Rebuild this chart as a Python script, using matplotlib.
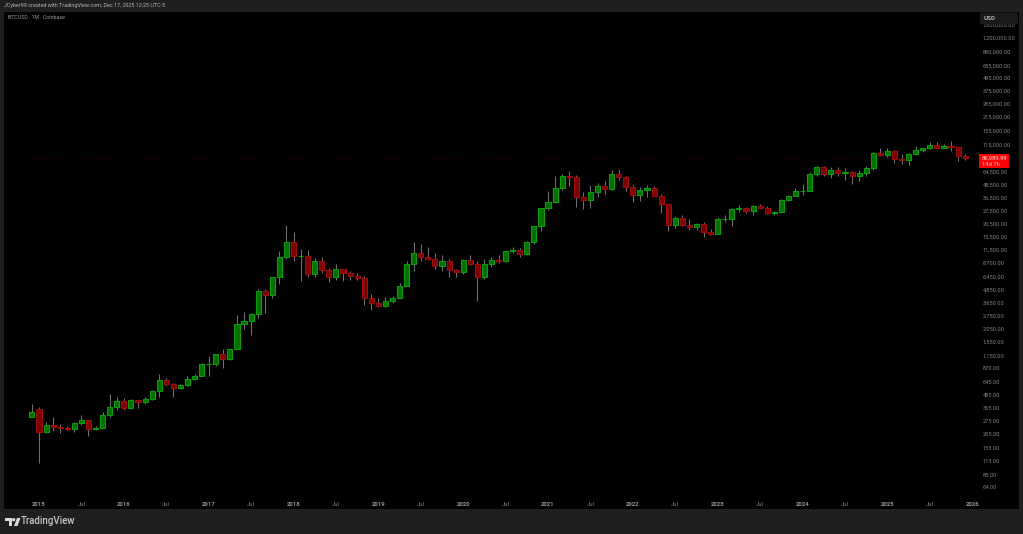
import matplotlib
matplotlib.use('Agg')
import matplotlib.pyplot as plt
from matplotlib.patches import FancyBboxPatch, Rectangle, Polygon, Circle
from matplotlib.transforms import blended_transform_factory

# months counted from Jan 2015 (Dec 2014 is -1)
first_month = -1

opens = [305, 360, 218, 254, 244, 236, 230, 263, 284, 230, 236, 314, 377,
         430, 368, 437, 416, 449, 530, 672, 624, 575, 610, 700, 745,
         965, 970, 1190, 1075, 1350, 2300, 2480, 2860, 4700, 4340, 6450, 9900,
         13880, 10110, 10310, 6925, 9240, 7490, 6390, 7730, 7010, 6600, 6300, 4040,
         3690, 3410, 3820, 4100, 5320, 8570, 10800, 10080, 9600, 8290, 9150, 7540,
         7200, 9350, 8530, 6410, 8620, 9450, 9140, 11350, 11650, 10780, 13800, 19700,
         29000, 33100, 45200, 58800, 57700, 37300, 35050, 41460, 47100, 43800, 61300, 56950,
         46200, 38480, 43180, 45530, 37640, 31800, 19980, 23300, 20050, 19430, 20490, 17170,
         16540, 23130, 23150, 28480, 29250, 27220, 30470, 29230, 25940, 26970, 34660, 37720,
         42280, 42580, 61170, 71290, 60670, 67530, 62770, 64640, 58970, 63330, 70300, 96400,
         93380, 102400, 84300, 82500, 94200, 104600, 107100, 115750, 108200, 114000, 109500, 90400]
highs = [400, 380, 270, 302, 261, 247, 268, 318, 285, 247, 335, 500, 465,
         460, 445, 440, 470, 550, 780, 705, 630, 620, 740, 770, 980,
         1153, 1200, 1350, 1350, 2790, 3000, 2950, 4980, 5000, 6470, 11400, 19890,
         17170, 11780, 11700, 9750, 10000, 7770, 8480, 7750, 7410, 7000, 6640, 4400,
         4080, 4210, 4290, 5640, 9100, 13880, 13190, 12330, 10950, 10370, 9530, 7750,
         9590, 10520, 9190, 9460, 10080, 10380, 11420, 12490, 12080, 14100, 19870, 29300,
         41980, 58350, 61790, 64900, 59600, 41350, 48170, 50500, 52950, 67000, 69000, 59100,
         47990, 45850, 48240, 47470, 40000, 31990, 24680, 25200, 22800, 21100, 21480, 18370,
         23960, 25250, 29190, 31050, 29820, 31430, 31860, 30200, 27490, 35200, 38450, 45000,
         48970, 64000, 73800, 72800, 72000, 71980, 70000, 65600, 66500, 73650, 99800, 108300,
         109000, 102800, 95000, 97900, 112000, 110400, 123200, 124500, 117900, 126200, 110600, 94200]
lows = [300, 111, 211, 222, 214, 228, 220, 253, 200, 225, 235, 300, 352,
        350, 363, 365, 405, 435, 465, 600, 470, 565, 600, 675, 738,
        735, 915, 890, 1060, 1350, 2050, 1830, 2650, 2950, 4100, 5500, 9500,
        9200, 5920, 6430, 6430, 7030, 5750, 6070, 5880, 6100, 6100, 3500, 3120,
        3340, 3340, 3670, 4100, 5270, 7400, 9100, 9320, 7700, 7300, 6500, 6430,
        6850, 8400, 3850, 6150, 8100, 8830, 8970, 10980, 9880, 10370, 13200, 17600,
        27700, 32300, 43000, 47000, 30000, 28800, 29280, 37300, 39600, 43300, 53250, 42000,
        32930, 34300, 37150, 37600, 26350, 17600, 18750, 19550, 18150, 18180, 15480, 16260,
        16500, 21350, 19550, 26950, 25870, 24750, 28860, 25300, 24900, 26550, 34100, 37600,
        38500, 41880, 59000, 59100, 56500, 58400, 53500, 49000, 52550, 58900, 66800, 90500,
        89100, 78200, 76600, 74400, 93300, 98200, 105100, 107300, 107200, 102000, 80600, 83800]
closes = [335, 219, 254, 244, 236, 230, 263, 284, 230, 236, 314, 377, 430,
          368, 437, 416, 449, 530, 672, 624, 575, 610, 700, 745, 965,
          970, 1190, 1075, 1350, 2300, 2480, 2860, 4700, 4340, 6450, 9900, 13880,
          10110, 10310, 6925, 9240, 7490, 6390, 7730, 7010, 6600, 6300, 4040, 3690,
          3410, 3820, 4100, 5320, 8570, 10800, 10080, 9600, 8290, 9150, 7540, 7200,
          9350, 8530, 6410, 8620, 9450, 9140, 11350, 11650, 10780, 13800, 19700, 29000,
          33100, 45200, 58800, 57700, 37300, 35050, 41460, 47100, 43800, 61300, 56950, 46200,
          38480, 43180, 45530, 37640, 31800, 19980, 23300, 20050, 19430, 20490, 17170, 16540,
          23130, 23150, 28480, 29250, 27220, 30470, 29230, 25940, 26970, 34660, 37720, 42280,
          42580, 61170, 71290, 60670, 67530, 62770, 64640, 58970, 63330, 70300, 96400, 93380,
          102400, 84300, 82500, 94200, 104600, 107100, 115750, 108200, 114000, 109500, 90400, 86989.99]

price_ticks = [1600000, 1200000, 880000, 655000, 495000, 375000, 285000, 215000,
               155000, 115000, 64500, 48500, 36500, 27500, 20500, 15500, 11500,
               8700, 6450, 4850, 3650, 2750, 2050, 1550, 1150, 870, 645, 485,
               365, 275, 205, 153, 113, 85, 64]
time_ticks = [0, 6, 12, 18, 24, 30, 36, 42, 48, 54, 60, 66, 72, 78, 84, 90,
              96, 102, 108, 114, 120, 126, 132]
time_labels = ['2015', 'Jul', '2016', 'Jul', '2017', 'Jul', '2018', 'Jul', '2019', 'Jul',
               '2020', 'Jul', '2021', 'Jul', '2022', 'Jul', '2023', 'Jul', '2024', 'Jul',
               '2025', 'Jul', '2026']
last_price = 86989.99

W, H = 1023, 534
plt.rcParams['font.family'] = ['Roboto', 'DejaVu Sans']

fig = plt.figure(figsize=(W / 100, H / 100), dpi=100, facecolor='#1f1f1f')

# black pane, pixel box 4..1019 x 12..509
ax = fig.add_axes([4 / W, 1 - 509 / H, 1015 / W, 497 / H], facecolor='black')
ax.set_yscale('log')
px_per_month = 7.07
ax.set_xlim((4 - 39) / px_per_month, (1019 - 39) / px_per_month)
# 1.2M sits at y=38, 64 at y=488, 105.3 px a decade
ax.set_ylim(10 ** (1.806 - (509 - 488) / 105.3), 10 ** (6.079 + (38 - 12) / 105.3))
for s in ax.spines.values():
    s.set_visible(False)
ax.set_xticks([])
ax.set_yticks([])
ax.minorticks_off()

xs = [first_month + i for i in range(len(opens))]
ax.vlines(xs, lows, highs, color='#707070', linewidth=0.75, zorder=2)
for x, o, c in zip(xs, opens, closes):
    up = c >= o
    ax.bar(x, abs(c - o), bottom=min(o, c), width=0.72,
           facecolor='#056f05' if up else '#7a0404',
           edgecolor='#0a9c0a' if up else '#a00a0a',
           linewidth=0.8, zorder=3)

# last price line, very faint
ax.axhline(last_price, color='#3a0606', linewidth=0.5, linestyle=(0, (1, 2)), zorder=1)

# price scale
ytrans = blended_transform_factory(fig.transFigure, ax.transData)
for p in price_ticks:
    ax.text(983 / W, p, f'{p:,.2f}', transform=ytrans, color='#858585', fontsize=4.05,
            va='center', ha='left', zorder=4)

for t, lab in zip(time_ticks, time_labels):
    bold = lab != 'Jul'
    fig.text((39 + t * px_per_month) / W, 1 - 504 / H, lab, color='#929292' if bold else '#7c7c7c',
             fontsize=4.3, ha='center', va='center', fontweight='bold' if bold else 'normal')

# USD box over the top of the scale
fig.patches.append(FancyBboxPatch((980, H - 24.5), 38, 12, boxstyle='round,pad=0,rounding_size=1.5',
                                  transform=None, facecolor='#191919', edgecolor='none', zorder=6))
fig.text(984 / W, 1 - 18 / H, 'USD', color='#b0b0b0', fontsize=4.5, fontweight='bold', va='center', zorder=7)

# red last price tag
fig.patches.append(Rectangle((979, H - 168.3), 30, 14, transform=None, facecolor='#fa0505',
                             edgecolor='none', zorder=6))
fig.text(982 / W, 1 - 158 / H, '86,989.99', color='#ffd0d0', fontsize=4.2, va='center', zorder=7)
fig.text(982 / W, 1 - 164 / H, '14d 7h', color='#ffc0c0', fontsize=4.2, va='center', zorder=7)

# header and pane title
fig.text(4 / W, 1 - 6 / H, 'JCyber99 created with TradingView.com, Dec 17, 2025 12:25 UTC-5',
         color='#b4b4b4', fontsize=3.85, va='center')
fig.text(7.5 / W, 1 - 17.5 / H, 'BTCUSD \u00b7 1M \u00b7 Coinbase', color='#989898', fontsize=3.8, va='center')

# footer logo
fig.patches.append(Polygon([(5, H - 518), (12, H - 518), (12, H - 526), (9, H - 526), (9, H - 521), (5, H - 521)],
                           transform=None, facecolor='#d8d8d8', edgecolor='none'))
fig.patches.append(Circle((13.7, H - 519.7), 1.7, transform=None, facecolor='#d8d8d8', edgecolor='none'))
fig.patches.append(Polygon([(17, H - 518), (20.5, H - 518), (17.5, H - 526), (14, H - 526)],
                           transform=None, facecolor='#d8d8d8', edgecolor='none'))
fig.text(20.5 / W, 1 - 521.5 / H, 'TradingView', color='#c8c8c8', fontsize=6.9, fontweight='medium', va='center')

fig.savefig('out.png', dpi=100, facecolor=fig.get_facecolor())
